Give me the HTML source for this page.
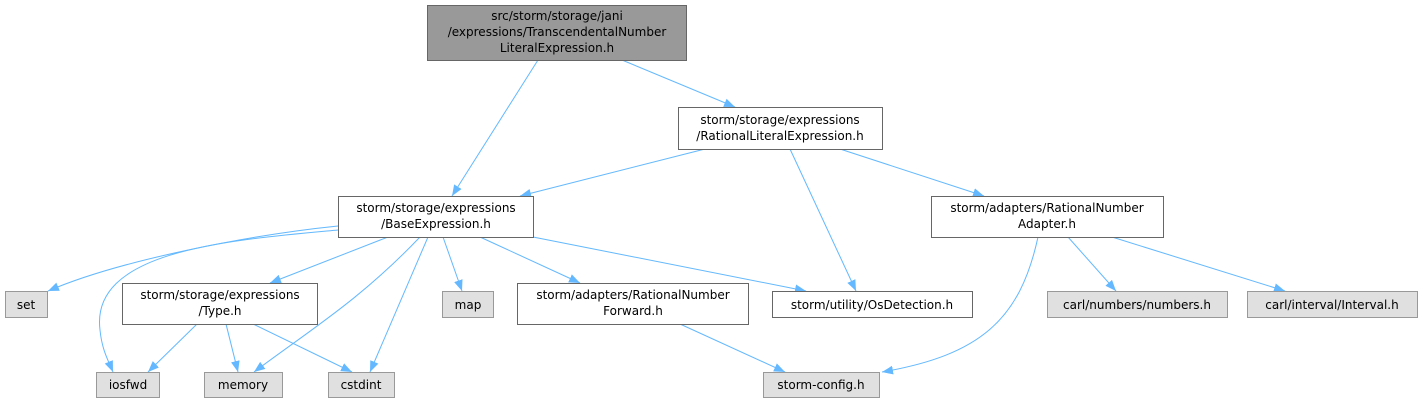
<!DOCTYPE html>
<html><head><meta charset="utf-8"><style>html,body{margin:0;padding:0;background:#fff}svg{display:block}text{font-family:"DejaVu Sans","Liberation Sans",sans-serif;font-size:12px;fill:#000}</style></head><body>
<svg width="1422" height="403" viewBox="0 0 1422 403" xmlns="http://www.w3.org/2000/svg">
<defs><marker id="a" viewBox="0 0 10 10" refX="10" refY="5" markerWidth="11" markerHeight="11" markerUnits="userSpaceOnUse" orient="auto"><path d="M0,1 L10,5 L0,9 z" fill="#63b8ff"/></marker></defs>
<g fill="none" stroke="#63b8ff" stroke-width="1" marker-end="url(#a)">
<path d="M538,60 L452,196"/>
<path d="M622,60 L735,107"/>
<path d="M705,149 L520,196"/>
<path d="M790,149 L856,291"/>
<path d="M840,149 L984,196"/>
<path d="M338,226 C250,235 120,260 48,291"/>
<path d="M338,230 C230,240 90,250 100,330 C102,350 108,360 113,372"/>
<path d="M388,237 L270,283"/>
<path d="M420,237 C360,300 310,330 254,372"/>
<path d="M428,237 L370,372"/>
<path d="M443,237 L462,291"/>
<path d="M480,237 L580,283"/>
<path d="M533,237 L806,291"/>
<path d="M1038,237 C1020,320 980,355 882,372"/>
<path d="M1068,237 L1116,291"/>
<path d="M1112,237 L1285,291"/>
<path d="M197,324 L148,372"/>
<path d="M226,324 L238,372"/>
<path d="M253,324 L352,372"/>
<path d="M680,324 L785,372"/>
</g>
<g stroke-width="1">
<rect x="427.5" y="5.5" width="259" height="55" fill="#999" stroke="#666"/>
<rect x="678.5" y="107.5" width="204" height="42" fill="#fff" stroke="#666"/>
<rect x="338.5" y="196.5" width="195" height="41" fill="#fff" stroke="#666"/>
<rect x="931.5" y="196.5" width="232" height="41" fill="#fff" stroke="#666"/>
<rect x="122.5" y="283.5" width="195" height="41" fill="#fff" stroke="#666"/>
<rect x="517.5" y="283.5" width="231" height="41" fill="#fff" stroke="#666"/>
<rect x="772.5" y="291.5" width="200" height="26" fill="#fff" stroke="#666"/>
<rect x="5.5" y="291.5" width="42" height="26" fill="#e0e0e0" stroke="#999"/>
<rect x="442.5" y="291.5" width="51" height="26" fill="#e0e0e0" stroke="#999"/>
<rect x="1047.5" y="291.5" width="180" height="26" fill="#e0e0e0" stroke="#999"/>
<rect x="1247.5" y="291.5" width="170" height="26" fill="#e0e0e0" stroke="#999"/>
<rect x="96.5" y="372.5" width="63" height="25" fill="#e0e0e0" stroke="#999"/>
<rect x="204.5" y="372.5" width="78" height="25" fill="#e0e0e0" stroke="#999"/>
<rect x="328.5" y="372.5" width="66" height="25" fill="#e0e0e0" stroke="#999"/>
<rect x="763.5" y="372.5" width="116" height="25" fill="#e0e0e0" stroke="#999"/>
</g>
<g text-anchor="middle">
<text x="557" y="20">src/storm/storage/jani</text>
<text x="557" y="36">/expressions/TranscendentalNumber</text>
<text x="557" y="52">LiteralExpression.h</text>
<text x="780" y="124">storm/storage/expressions</text>
<text x="780" y="140">/RationalLiteralExpression.h</text>
<text x="436" y="212">storm/storage/expressions</text>
<text x="436" y="228">/BaseExpression.h</text>
<text x="1047" y="212">storm/adapters/RationalNumber</text>
<text x="1047" y="228">Adapter.h</text>
<text x="220" y="299">storm/storage/expressions</text>
<text x="220" y="315">/Type.h</text>
<text x="633" y="299">storm/adapters/RationalNumber</text>
<text x="633" y="315">Forward.h</text>
<text x="872" y="309">storm/utility/OsDetection.h</text>
<text x="26" y="309">set</text>
<text x="468" y="309">map</text>
<text x="1137" y="309">carl/numbers/numbers.h</text>
<text x="1332" y="309">carl/interval/Interval.h</text>
<text x="128" y="389">iosfwd</text>
<text x="243" y="389">memory</text>
<text x="361" y="389">cstdint</text>
<text x="821" y="389">storm-config.h</text>
</g>
</svg>
</body></html>
